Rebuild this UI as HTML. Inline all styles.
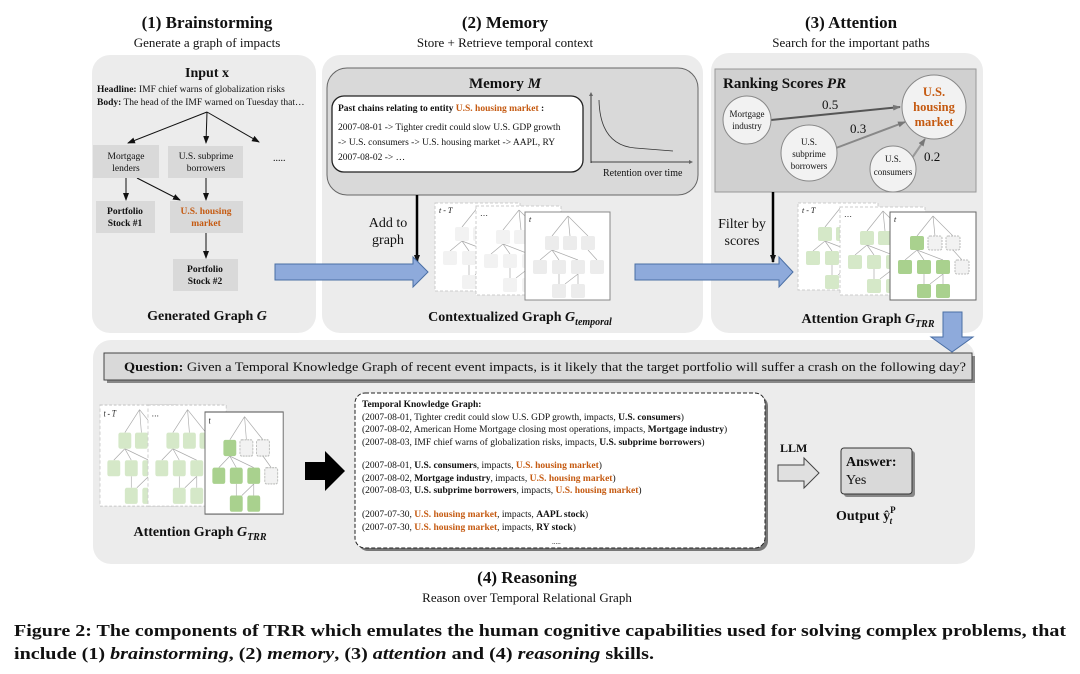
<!DOCTYPE html>
<html><head><meta charset="utf-8"><style>
html,body{margin:0;padding:0;background:#fff}
svg{display:block}
text{font-family:"Liberation Serif",serif;fill:#111}
.b{font-weight:bold}
.o{fill:#c55a11;font-weight:bold}
</style></head><body>
<svg width="1080" height="674" viewBox="0 0 1080 674" xmlns="http://www.w3.org/2000/svg">
<defs>
<marker id="ah" markerWidth="8" markerHeight="8" refX="7" refY="4" orient="auto" markerUnits="userSpaceOnUse"><path d="M0,1 L8,4 L0,7 z" fill="#111"/></marker>
<marker id="ag" markerWidth="8" markerHeight="8" refX="7" refY="4" orient="auto" markerUnits="userSpaceOnUse"><path d="M0,1 L8,4 L0,7 z" fill="#777"/></marker>
<marker id="as" markerWidth="4" markerHeight="4" refX="3" refY="2" orient="auto" markerUnits="userSpaceOnUse"><path d="M0,0 L4,2 L0,4 z" fill="#666"/></marker>
<g id="edges" stroke="#aaa" stroke-width="0.7" fill="none">
<path d="M43,4 L27,24 M43,4 L45,24 M43,4 L63,24 M27,38 L15,48 M27,38 L34,48 M27,38 L53,48 M63,38 L72,48 M34,62 L34,72 M53,62 L53,72 M53,62 L40,72"/>
</g>
<g id="nodes">
<rect x="20" y="24" width="14" height="14" rx="2"/><rect x="38" y="24" width="14" height="14" rx="2"/><rect x="56" y="24" width="14" height="14" rx="2"/>
<rect x="8" y="48" width="14" height="14" rx="2"/><rect x="27" y="48" width="14" height="14" rx="2"/><rect x="46" y="48" width="14" height="14" rx="2"/><rect x="65" y="48" width="14" height="14" rx="2"/>
<rect x="27" y="72" width="14" height="14" rx="2"/><rect x="46" y="72" width="14" height="14" rx="2"/>
</g>
</defs>

<text x="207" y="28" text-anchor="middle" class="b" font-size="17">(1) Brainstorming</text>
<text x="207" y="47" text-anchor="middle" font-size="13">Generate a graph of impacts</text>
<text x="505" y="28" text-anchor="middle" class="b" font-size="17">(2) Memory</text>
<text x="505" y="47" text-anchor="middle" font-size="13">Store + Retrieve temporal context</text>
<text x="851" y="28" text-anchor="middle" class="b" font-size="17">(3) Attention</text>
<text x="851" y="47" text-anchor="middle" font-size="13">Search for the important paths</text>

<rect x="92" y="55" width="224" height="278" rx="18" fill="#ececec"/>
<rect x="322" y="55" width="381" height="278" rx="18" fill="#ececec"/>
<rect x="711" y="53" width="272" height="280" rx="18" fill="#ececec"/>
<rect x="93" y="340" width="882" height="224" rx="18" fill="#ececec"/>

<text x="207" y="77" text-anchor="middle" class="b" font-size="14">Input x</text>
<text x="97" y="92" font-size="9.5"><tspan class="b">Headline:</tspan> IMF chief warns of globalization risks</text>
<text x="97" y="105" font-size="9.5"><tspan class="b">Body:</tspan> The head of the IMF warned on Tuesday that…</text>
<g stroke="#111" stroke-width="1" fill="none" marker-end="url(#ah)">
<path d="M207,112 L128,143"/><path d="M207,112 L206,143"/><path d="M207,112 L259,142"/>
<path d="M126,178 L126,200"/><path d="M137,178 L180,200"/><path d="M206,178 L206,200"/><path d="M206,233 L206,258"/>
</g>
<rect x="93" y="145" width="66" height="33" fill="#d9d9d9"/>
<rect x="168" y="146" width="75" height="32" fill="#d9d9d9"/>
<rect x="96" y="201" width="59" height="32" fill="#d9d9d9"/>
<rect x="170" y="201" width="73" height="32" fill="#d9d9d9"/>
<rect x="173" y="259" width="65" height="32" fill="#d9d9d9"/>
<text font-size="9.5" text-anchor="middle" fill="#333"><tspan x="126" y="159">Mortgage</tspan><tspan x="126" y="171">lenders</tspan></text>
<text font-size="9.5" text-anchor="middle"><tspan x="206" y="159">U.S. subprime</tspan><tspan x="206" y="171">borrowers</tspan></text>
<text x="273" y="161" font-size="10">.....</text>
<text font-size="9.5" text-anchor="middle" class="b"><tspan x="125" y="214">Portfolio</tspan><tspan x="125" y="226">Stock #1</tspan></text>
<text font-size="9.5" text-anchor="middle" class="o"><tspan x="206" y="214">U.S. housing</tspan><tspan x="206" y="226">market</tspan></text>
<text font-size="9.5" text-anchor="middle" class="b"><tspan x="205" y="272">Portfolio</tspan><tspan x="205" y="284">Stock #2</tspan></text>
<text x="207" y="320" text-anchor="middle" class="b" font-size="14">Generated Graph <tspan font-style="italic">G</tspan></text>

<rect x="327" y="68" width="371" height="127" rx="20" fill="#d9d9d9" stroke="#666" stroke-width="1"/>
<text x="505" y="88" text-anchor="middle" class="b" font-size="15">Memory <tspan font-style="italic">M</tspan></text>
<rect x="332" y="96" width="251" height="76" rx="12" fill="#fff" stroke="#222" stroke-width="1.3"/>
<text x="338" y="111" font-size="9.5" class="b">Past chains relating to entity <tspan class="o">U.S. housing market</tspan> :</text>
<text x="338" y="130" font-size="9.5">2007-08-01 -&gt; Tighter credit could slow U.S. GDP growth</text>
<text x="338" y="145" font-size="9.5">-&gt; U.S. consumers -&gt; U.S. housing market -&gt; AAPL, RY</text>
<text x="338" y="160" font-size="9.5">2007-08-02 -&gt; …</text>
<path d="M591,163 L591,93" stroke="#111" stroke-width="0.8" marker-end="url(#as)"/>
<path d="M591,162 L692,162" stroke="#111" stroke-width="0.8" marker-end="url(#as)"/>
<path d="M599,100 Q600,145 635,148 L673,151" stroke="#333" stroke-width="0.8" fill="none"/>
<text x="603" y="176" font-size="10">Retention over time</text>
<path d="M417,195 L417,262" stroke="#000" stroke-width="2.5" marker-end="url(#ah)"/>
<text font-size="14" text-anchor="middle"><tspan x="388" y="227">Add to</tspan><tspan x="388" y="244">graph</tspan></text>
<path d="M275,264 L413,264 L413,257 L428,272 L413,287 L413,280 L275,280 Z" fill="#8eaadb" stroke="#4a6fa5" stroke-width="1"/>
<g transform="translate(435,203)"><rect width="85" height="88" fill="#fff" stroke="#ccc" stroke-dasharray="3,2"/><use href="#edges"/><use href="#nodes" fill="#f2f2f2"/><text x="4" y="10" font-size="8" fill="#888" font-style="italic">t - T</text></g>
<g transform="translate(476,206)"><rect width="85" height="89" fill="#fff" stroke="#ccc" stroke-dasharray="3,2"/><use href="#edges"/><use href="#nodes" fill="#f2f2f2"/><text x="4" y="10" font-size="8" fill="#888">…</text></g>
<g transform="translate(525,212)"><rect width="85" height="88" fill="#fff" stroke="#888"/><use href="#edges"/><use href="#nodes" fill="#ececec"/><text x="4" y="10" font-size="8" font-style="italic">t</text></g>
<text x="520" y="321" text-anchor="middle" class="b" font-size="14">Contextualized Graph <tspan font-style="italic">G</tspan><tspan font-style="italic" font-size="10" dy="4">temporal</tspan></text>

<rect x="715" y="69" width="261" height="123" fill="#d0d0d0" stroke="#999"/>
<text x="723" y="88" class="b" font-size="15">Ranking Scores <tspan font-style="italic">PR</tspan></text>
<path d="M771,120 L900,107" stroke="#555" stroke-width="2" marker-end="url(#ag)"/>
<path d="M836,148 L905,122" stroke="#888" stroke-width="2" marker-end="url(#ag)"/>
<path d="M912,158 L925,139" stroke="#999" stroke-width="2" marker-end="url(#ag)"/>
<circle cx="747" cy="120" r="24" fill="#f2f2f2" stroke="#888"/>
<circle cx="934" cy="107" r="32" fill="#f2f2f2" stroke="#888"/>
<circle cx="809" cy="153" r="28" fill="#f2f2f2" stroke="#888"/>
<circle cx="893" cy="169" r="23" fill="#f2f2f2" stroke="#888"/>
<text font-size="9" text-anchor="middle"><tspan x="747" y="117">Mortgage</tspan><tspan x="747" y="129">industry</tspan></text>
<text font-size="12.5" text-anchor="middle" class="o"><tspan x="934" y="96">U.S.</tspan><tspan x="934" y="111">housing</tspan><tspan x="934" y="126">market</tspan></text>
<text font-size="9" text-anchor="middle"><tspan x="809" y="145">U.S.</tspan><tspan x="809" y="157">subprime</tspan><tspan x="809" y="169">borrowers</tspan></text>
<text font-size="9" text-anchor="middle"><tspan x="893" y="162">U.S.</tspan><tspan x="893" y="175">consumers</tspan></text>
<text x="822" y="109" font-size="13">0.5</text>
<text x="850" y="133" font-size="13">0.3</text>
<text x="924" y="161" font-size="13">0.2</text>
<path d="M773,192 L773,262" stroke="#000" stroke-width="2.5" marker-end="url(#ah)"/>
<text font-size="14" text-anchor="middle"><tspan x="742" y="228">Filter by</tspan><tspan x="742" y="245">scores</tspan></text>
<path d="M635,264 L779,264 L779,257 L793,272 L779,287 L779,280 L635,280 Z" fill="#8eaadb" stroke="#4a6fa5" stroke-width="1"/>
<g transform="translate(798,203)"><rect width="80" height="87" fill="#fff" stroke="#ccc" stroke-dasharray="3,2"/><use href="#edges"/><use href="#nodes" fill="#d5e8c8"/><text x="4" y="10" font-size="8" fill="#888" font-style="italic">t - T</text></g>
<g transform="translate(840,207)"><rect width="85" height="88" fill="#fff" stroke="#ccc" stroke-dasharray="3,2"/><use href="#edges"/><use href="#nodes" fill="#d5e8c8"/><text x="4" y="10" font-size="8" fill="#888">…</text></g>
<g transform="translate(890,212)"><rect width="86" height="88" fill="#fff" stroke="#666"/><use href="#edges"/><use href="#nodes" fill="#a9d18e"/><rect x="38" y="24" width="14" height="14" rx="2" fill="#f2f2f2" stroke="#bbb" stroke-dasharray="2,1"/><rect x="56" y="24" width="14" height="14" rx="2" fill="#f2f2f2" stroke="#bbb" stroke-dasharray="2,1"/><rect x="65" y="48" width="14" height="14" rx="2" fill="#f2f2f2" stroke="#bbb" stroke-dasharray="2,1"/><text x="4" y="10" font-size="8" font-style="italic">t</text></g>
<text x="868" y="323" text-anchor="middle" class="b" font-size="14">Attention Graph <tspan font-style="italic">G</tspan><tspan font-style="italic" font-size="10" dy="4">TRR</tspan></text>
<path d="M943,312 L962,312 L962,337 L973,337 L952,352 L931,337 L943,337 Z" fill="#8eaadb" stroke="#4a6fa5" stroke-width="1"/>

<rect x="107" y="356" width="868" height="27" fill="#888"/>
<rect x="104" y="353" width="868" height="27" fill="#d9d9d9" stroke="#444"/>
<text x="124" y="371" font-size="13" textLength="842" lengthAdjust="spacingAndGlyphs"><tspan class="b">Question:</tspan> Given a Temporal Knowledge Graph of recent event impacts, is it likely that the target portfolio will suffer a crash on the following day?</text>
<g transform="translate(100,405) scale(0.92,1.15)"><rect width="85" height="88" fill="#fff" stroke="#ccc" stroke-dasharray="3,2"/><use href="#edges"/><use href="#nodes" fill="#d5e8c8"/><text x="4" y="10" font-size="8" fill="#888" font-style="italic">t - T</text></g>
<g transform="translate(148,405) scale(0.92,1.15)"><rect width="85" height="88" fill="#fff" stroke="#ccc" stroke-dasharray="3,2"/><use href="#edges"/><use href="#nodes" fill="#d5e8c8"/><text x="4" y="10" font-size="8" fill="#888">…</text></g>
<g transform="translate(205,412) scale(0.92,1.16)"><rect width="85" height="88" fill="#fff" stroke="#666"/><use href="#edges"/><use href="#nodes" fill="#a9d18e"/><rect x="38" y="24" width="14" height="14" rx="2" fill="#f2f2f2" stroke="#bbb" stroke-dasharray="2,1"/><rect x="56" y="24" width="14" height="14" rx="2" fill="#f2f2f2" stroke="#bbb" stroke-dasharray="2,1"/><rect x="65" y="48" width="14" height="14" rx="2" fill="#f2f2f2" stroke="#bbb" stroke-dasharray="2,1"/><text x="4" y="10" font-size="8" font-style="italic">t</text></g>
<text x="200" y="536" text-anchor="middle" class="b" font-size="14">Attention Graph <tspan font-style="italic">G</tspan><tspan font-style="italic" font-size="10" dy="4">TRR</tspan></text>
<path d="M305,462 L325,462 L325,451 L345,471 L325,491 L325,480 L305,480 Z" fill="#000"/>
<rect x="358" y="396" width="410" height="155" rx="10" fill="#777"/>
<rect x="355" y="393" width="410" height="155" rx="10" fill="#fff" stroke="#222" stroke-dasharray="4,2"/>
<g font-size="9.5">
<text x="362" y="407" class="b">Temporal Knowledge Graph:</text>
<text x="362" y="420">(2007-08-01, Tighter credit could slow U.S. GDP growth, impacts, <tspan class="b">U.S. consumers</tspan>)</text>
<text x="362" y="432">(2007-08-02, American Home Mortgage closing most operations, impacts, <tspan class="b">Mortgage industry</tspan>)</text>
<text x="362" y="445">(2007-08-03, IMF chief warns of globalization risks, impacts, <tspan class="b">U.S. subprime borrowers</tspan>)</text>
<text x="362" y="468">(2007-08-01, <tspan class="b">U.S. consumers</tspan>, impacts, <tspan class="o">U.S. housing market</tspan>)</text>
<text x="362" y="481">(2007-08-02, <tspan class="b">Mortgage industry</tspan>, impacts, <tspan class="o">U.S. housing market</tspan>)</text>
<text x="362" y="493">(2007-08-03, <tspan class="b">U.S. subprime borrowers</tspan>, impacts, <tspan class="o">U.S. housing market</tspan>)</text>
<text x="362" y="517">(2007-07-30, <tspan class="o">U.S. housing market</tspan>, impacts, <tspan class="b">AAPL stock</tspan>)</text>
<text x="362" y="530">(2007-07-30, <tspan class="o">U.S. housing market</tspan>, impacts, <tspan class="b">RY stock</tspan>)</text>
<text x="552" y="544" font-size="7">.....</text>
</g>
<text x="780" y="452" class="b" font-size="12">LLM</text>
<path d="M778,465 L804,465 L804,458 L819,473 L804,488 L804,481 L778,481 Z" fill="#e0e0e0" stroke="#444"/>
<rect x="844" y="451" width="71" height="46" rx="3" fill="#888"/>
<rect x="841" y="448" width="71" height="46" rx="3" fill="#d9d9d9" stroke="#333"/>
<text x="846" y="466" class="b" font-size="14">Answer:</text>
<text x="846" y="484" font-size="14">Yes</text>
<text x="836" y="520" class="b" font-size="14">Output <tspan>ŷ</tspan><tspan font-size="9" dy="-7">P</tspan><tspan font-size="9" dx="-6" dy="11" font-style="italic">t</tspan></text>

<text x="527" y="583" text-anchor="middle" class="b" font-size="17">(4) Reasoning</text>
<text x="527" y="602" text-anchor="middle" font-size="13">Reason over Temporal Relational Graph</text>

<text x="14" y="636" class="b" font-size="16.5" textLength="1052" lengthAdjust="spacingAndGlyphs">Figure 2: The components of TRR which emulates the human cognitive capabilities used for solving complex problems, that</text>
<text x="14" y="659" class="b" font-size="16.5" textLength="640" lengthAdjust="spacingAndGlyphs">include (1) <tspan font-style="italic">brainstorming</tspan>, (2) <tspan font-style="italic">memory</tspan>, (3) <tspan font-style="italic">attention</tspan> and (4) <tspan font-style="italic">reasoning</tspan> skills.</text>
</svg>
</body></html>
